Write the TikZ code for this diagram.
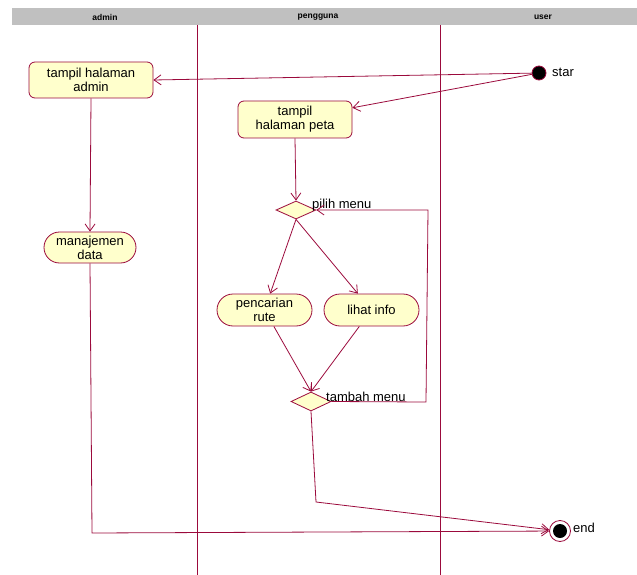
\documentclass[tikz,border=0pt]{standalone}
\usepackage{fontspec}
\setmainfont{Liberation Sans}
\usetikzlibrary{arrows.meta,shapes.geometric,shapes.misc,calc}
\definecolor{mar}{RGB}{155,10,60}
\definecolor{nodefill}{RGB}{255,255,204}
\definecolor{hdr}{RGB}{192,192,192}
\begin{document}
\begin{tikzpicture}[x=1pt,y=-1pt,
  every node/.style={font=\fontsize{13}{14}\selectfont},
  lane/.style={draw=mar, line width=0.8pt},
  act/.style={draw=mar, fill=nodefill, rounded corners=6pt, align=center, inner sep=0pt, line width=0.8pt},
  stad/.style={draw=mar, fill=nodefill, rounded rectangle, align=center, inner sep=0pt, line width=0.8pt},
  decision/.style={draw=mar, fill=nodefill, diamond, inner sep=0pt, minimum width=40pt, minimum height=19pt, line width=0.8pt},
  flow/.style={draw=mar, line width=0.8pt, -{Straight Barb[length=7pt,width=10pt]}},
  line/.style={draw=mar, line width=0.8pt},
  hdrtext/.style={font=\fontsize{8.5}{10}\selectfont\bfseries},
  lbl/.style={anchor=west, inner sep=0pt}]
\useasboundingbox (0,0) rectangle (637,575);
% header
\fill[hdr] (12,8) rectangle (637,25);
\node[hdrtext] (hadmin) at (105,17) {admin};
\node[hdrtext] (hpeng) at (318,17) {pengguna};
\node[hdrtext] (huser) at (543,17) {user};
% lanes
\coordinate (l1t) at (197,25); \coordinate (l1b) at (197,575);
\coordinate (l2t) at (440,25); \coordinate (l2b) at (440,575);
\draw[lane] (l1t) -- (l1b);
\draw[lane] (l2t) -- (l2b);
% nodes
\node[act, minimum width=124pt, minimum height=36pt] (admin) at (91,80) {tampil halaman\\admin};
\node[act, minimum width=114pt, minimum height=37pt] (peta) at (295,119.5) {tampil\\halaman peta};
\node[stad, minimum width=92pt, minimum height=31pt] (manaj) at (90,247.5) {manajemen\\data};
\node[stad, minimum width=95pt, minimum height=32pt] (pencar) at (264.5,310) {pencarian\\rute};
\node[stad, minimum width=95pt, minimum height=32pt] (lihat) at (371.5,310) {lihat info};
\node[decision, minimum height=18pt] (pilih) at (296,210) {};
\node[decision] (tambah) at (311,401.5) {};
\node[circle, draw=mar, fill=black, minimum size=14pt, inner sep=0pt, line width=0.8pt] (start) at (539,73) {};
\node[circle, draw=mar, fill=white, minimum size=21pt, inner sep=0pt, line width=0.8pt] (end) at (560,531) {};
\node[circle, fill=black, minimum size=14pt, inner sep=0pt] (endin) at (560,531) {};
% labels
\node[lbl] (lstar) at (552,72) {star};
\node[lbl] (lend) at (573,528) {end};
\node[lbl] (lpilih) at (312,205) {pilih menu};
\node[lbl] (ltambah) at (326,397) {tambah menu};
% connectors
\draw[flow] (start) -- (admin.east);
\draw[flow] (start) -- ($(peta.north east)!0.19!(peta.south east)$);
\draw[flow] (admin.south) -- (manaj.north);
\draw[flow] (peta.south) -- (pilih.north);
\draw[flow] (pilih.south) -- (pencar);
\draw[flow] (pilih.south) -- (lihat);
\draw[flow] (pencar) -- (tambah.north);
\draw[flow] (lihat) -- (tambah.north);
\coordinate (lpb) at (426,402);
\coordinate (lpt) at (428,210);
\draw[flow] (tambah.east) -- (lpb) -- (lpt) -- (pilih.east);
\coordinate (tb) at (316,502);
\draw[flow] (tambah.south) -- (tb) -- (end);
\coordinate (mb) at (92,533);
\draw[flow] (manaj.south) -- (mb) -- (end);
\end{tikzpicture}
\end{document}
